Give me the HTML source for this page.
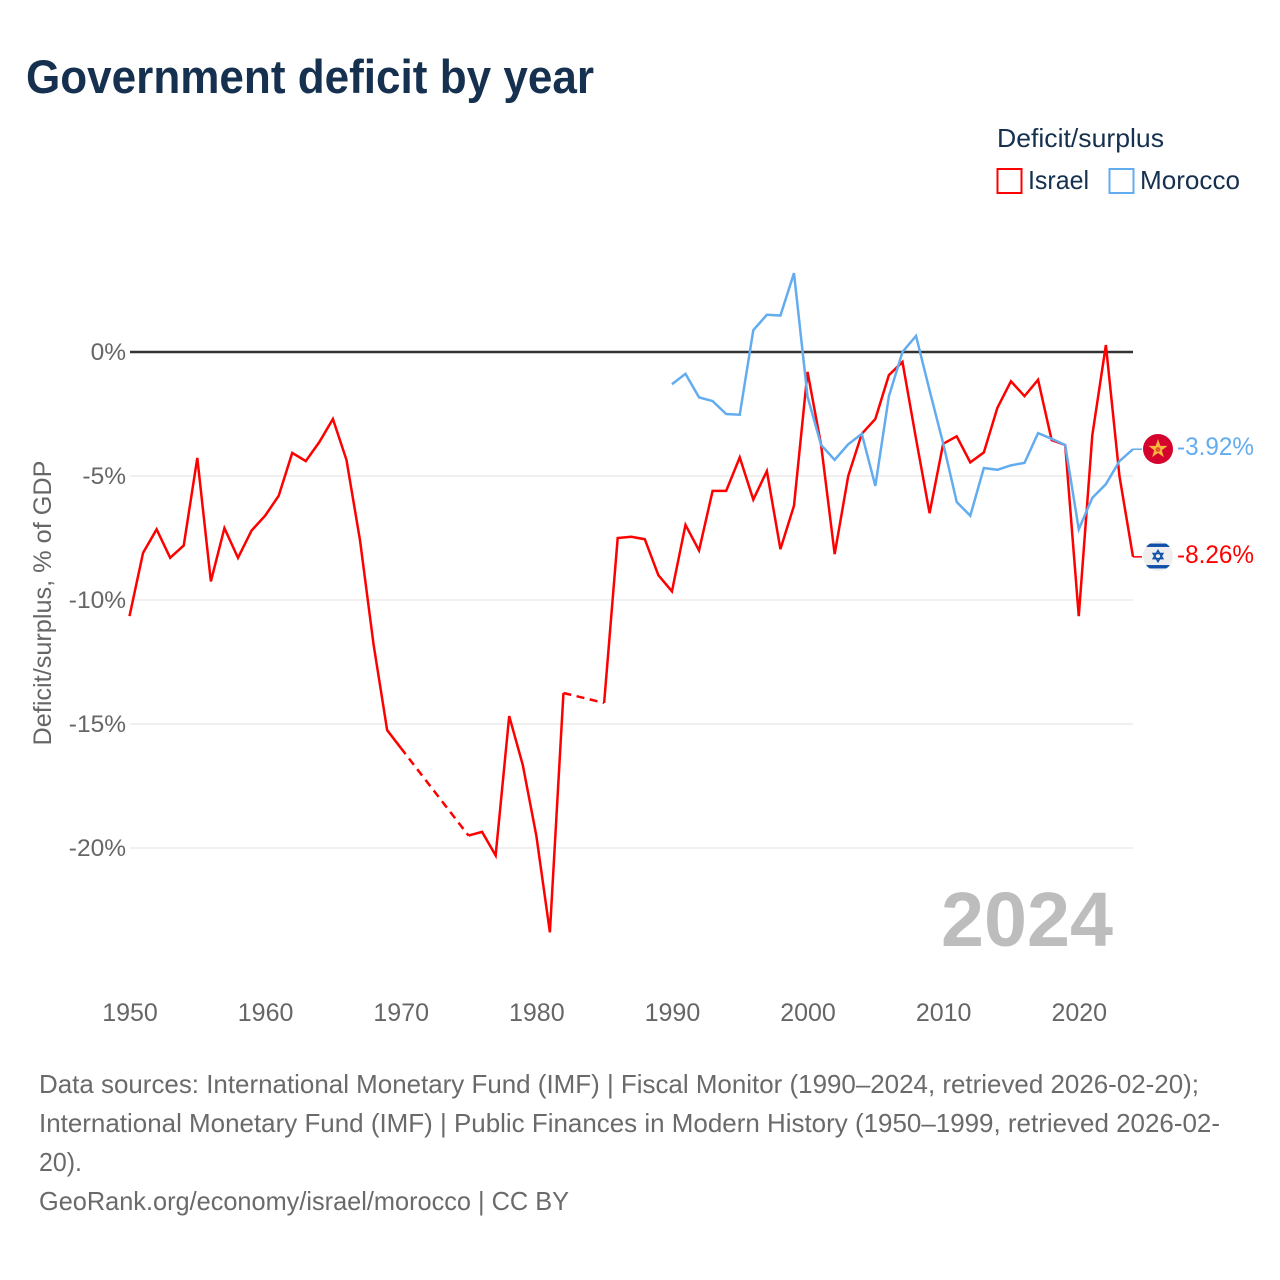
<!DOCTYPE html>
<html lang="en">
<head>
<meta charset="utf-8">
<title>Government deficit by year</title>
<style>
  html, body { margin: 0; padding: 0; background: #fff; }
  svg { display: block; font-family: "Liberation Sans", sans-serif; }
</style>
</head>
<body>
<svg id="chart" xmlns="http://www.w3.org/2000/svg" width="1280" height="1280" viewBox="0 0 1280 1280">
  <defs>
    <clipPath id="israelClip"><circle cx="0" cy="0" r="15"/></clipPath>
  </defs>
  <rect x="0" y="0" width="1280" height="1280" fill="#ffffff"/>
  <text x="26" y="93" font-size="47" font-weight="700" fill="#16304f" textLength="568" lengthAdjust="spacingAndGlyphs">Government deficit by year</text>

  <g>
    <text x="997" y="147" font-size="26" fill="#16304f" textLength="167" lengthAdjust="spacingAndGlyphs">Deficit/surplus</text>
    <rect x="997.5" y="169" width="24" height="24" fill="none" stroke="#ff0000" stroke-width="2"/>
    <text x="1028" y="189" font-size="26" fill="#16304f" textLength="61" lengthAdjust="spacingAndGlyphs">Israel</text>
    <rect x="1109.5" y="169" width="24" height="24" fill="none" stroke="#63acef" stroke-width="2"/>
    <text x="1140" y="189" font-size="26" fill="#16304f" textLength="100" lengthAdjust="spacingAndGlyphs">Morocco</text>
  </g>

  <g id="grid"></g>
  <g id="yTicksGroup"></g>
  <g id="xTicksGroup"></g>
  <text transform="translate(51,603) rotate(-90)" text-anchor="middle" font-size="25" fill="#666666" textLength="285" lengthAdjust="spacingAndGlyphs">Deficit/surplus, % of GDP</text>

  <text x="941" y="946" font-size="77" font-weight="700" fill="#bdbdbd" textLength="172" lengthAdjust="spacingAndGlyphs">2024</text>

  <g id="series"></g>

  <g id="flagMorocco">
    <circle r="15" fill="#d5042e"/>
    <polygon points="0,-10 2.4,-3.2 9.5,-3.1 3.8,1.2 5.9,8.1 0,4 -5.9,8.1 -3.8,1.2 -9.5,-3.1 -2.4,-3.2" fill="#f6b73c"/>
    <circle r="2.4" cy="0.5" fill="#e8532b"/>
  </g>
  <g id="flagIsrael">
    <circle r="15" fill="#eeeeee"/>
    <g clip-path="url(#israelClip)">
      <rect x="-15" y="-12.5" width="30" height="3.4" fill="#0f4fa8"/>
      <rect x="-15" y="9" width="30" height="3.4" fill="#0f4fa8"/>
    </g>
    <polygon points="0,-5.6 4.8,2.6 -4.8,2.6" fill="none" stroke="#0f4fa8" stroke-width="1.5"/>
    <polygon points="0,5.6 4.8,-2.6 -4.8,-2.6" fill="none" stroke="#0f4fa8" stroke-width="1.5"/>
  </g>
  <g id="endLabels"></g>

  <g font-size="26" fill="#6a6a6a">
    <text x="39" y="1093" textLength="1160" lengthAdjust="spacingAndGlyphs">Data sources: International Monetary Fund (IMF) | Fiscal Monitor (1990–2024, retrieved 2026-02-20);</text>
    <text x="39" y="1132" textLength="1181" lengthAdjust="spacingAndGlyphs">International Monetary Fund (IMF) | Public Finances in Modern History (1950–1999, retrieved 2026-02-</text>
    <text x="39" y="1171" textLength="43" lengthAdjust="spacingAndGlyphs">20).</text>
    <text x="39" y="1210" textLength="530" lengthAdjust="spacingAndGlyphs">GeoRank.org/economy/israel/morocco | CC BY</text>
  </g>
</svg>

<script>
const israelYears = [1950,1951,1952,1953,1954,1955,1956,1957,1958,1959,1960,1961,1962,1963,1964,1965,1966,1967,1968,1969,1970,1971,1972,1973,1974,1975,1976,1977,1978,1979,1980,1981,1982,1983,1984,1985,1986,1987,1988,1989,1990,1991,1992,1993,1994,1995,1996,1997,1998,1999,2000,2001,2002,2003,2004,2005,2006,2007,2008,2009,2010,2011,2012,2013,2014,2015,2016,2017,2018,2019,2020,2021,2022,2023,2024];
const israelValues = [-10.65,-8.1,-7.15,-8.3,-7.8,-4.27,-9.25,-7.1,-8.3,-7.2,-6.6,-5.8,-4.07,-4.4,-3.63,-2.7,-4.35,-7.6,-11.8,-15.25,-15.96,null,null,null,null,-19.5,-19.35,-20.3,-14.68,-16.65,-19.5,-23.4,-13.75,null,null,-14.15,-7.5,-7.45,-7.55,-9.0,-9.65,-6.97,-8.0,-5.6,-5.6,-4.25,-5.95,-4.8,-7.95,-6.2,-0.8,-3.75,-8.15,-5.0,-3.3,-2.7,-0.93,-0.4,-3.5,-6.5,-3.7,-3.4,-4.45,-4.05,-2.25,-1.18,-1.78,-1.12,-3.55,-3.75,-10.65,-3.35,0.28,-5.0,-8.26];
const moroccoYears = [1990,1991,1992,1993,1994,1995,1996,1997,1998,1999,2000,2001,2002,2003,2004,2005,2006,2007,2008,2009,2010,2011,2012,2013,2014,2015,2016,2017,2018,2019,2020,2021,2022,2023,2024];
const moroccoValues = [-1.3,-0.88,-1.83,-1.98,-2.5,-2.53,0.88,1.5,1.47,3.18,-1.8,-3.75,-4.35,-3.72,-3.3,-5.4,-1.78,0,0.65,-1.55,-3.68,-6.05,-6.6,-4.68,-4.75,-4.57,-4.47,-3.27,-3.5,-3.75,-7.15,-5.88,-5.33,-4.4,-3.92];
const xTickYears = [1950,1960,1970,1980,1990,2000,2010,2020];
const yTickValues = [0,-5,-10,-15,-20];

const NS = 'http://www.w3.org/2000/svg';
function xScale(year) { return 129.5 + (year - 1950) * (1133 - 129.5) / 74; }
function yScale(value) { return 352 - value * 24.8; }
function make(tag, parent) {
  const el = document.createElementNS(NS, tag);
  parent.appendChild(el);
  return el;
}

const grid = document.getElementById('grid');
const yTicksGroup = document.getElementById('yTicksGroup');
yTickValues.filter(function (v) { return v !== 0; }).forEach(function (v) {
  const line = make('line', grid);
  
  
  line.setAttribute('x1', 130);
  line.setAttribute('x2', 1133);
  line.setAttribute('y1', yScale(v));
  line.setAttribute('y2', yScale(v));
  line.setAttribute('stroke', '#e8e8e8');
  line.setAttribute('stroke-width', '1.2');
});
yTickValues.forEach(function (v) {
  const t = make('text', yTicksGroup);
  
  
  t.setAttribute('x', 126);
  t.setAttribute('y', yScale(v) + 8);
  t.setAttribute('text-anchor', 'end');
  t.setAttribute('font-size', '24.5');
  t.setAttribute('fill', '#666666');
  t.textContent = v + '%';
});

const xTicksGroup = document.getElementById('xTicksGroup');
xTickYears.forEach(function (y) {
  const t = make('text', xTicksGroup);
  
  
  t.setAttribute('x', xScale(y) + 0.5);
  t.setAttribute('y', 1021);
  t.setAttribute('text-anchor', 'middle');
  t.setAttribute('font-size', '25');
  t.setAttribute('fill', '#666666');
  t.textContent = y;
});

const zeroLine = make('line', grid);


zeroLine.setAttribute('x1', 130);
zeroLine.setAttribute('x2', 1133);
zeroLine.setAttribute('y1', yScale(0));
zeroLine.setAttribute('y2', yScale(0));
zeroLine.setAttribute('stroke', '#333333');
zeroLine.setAttribute('stroke-width', '2.6');

const seriesGroup = document.getElementById('series');
function pt(year, value) { return xScale(year).toFixed(2) + ',' + yScale(value).toFixed(2); }
function drawSeries(years, values, color, seriesName) {
  let run = [];
  let lastIdx = -1;
  function flush() {
    if (run.length > 1) {
      const solid = make('polyline', seriesGroup);
      
      
      solid.setAttribute('points', run.join(' '));
      solid.setAttribute('fill', 'none');
      solid.setAttribute('stroke', color);
      solid.setAttribute('stroke-width', '2.5');
      solid.setAttribute('stroke-linejoin', 'miter');
    }
    run = [];
  }
  years.forEach(function (year, i) {
    const v = values[i];
    if (v === null) { return; }
    if (lastIdx >= 0 && i - lastIdx > 1) {
      flush();
      const dash = make('line', seriesGroup);
      
      
      dash.setAttribute('x1', xScale(years[lastIdx]));
      dash.setAttribute('y1', yScale(values[lastIdx]));
      dash.setAttribute('x2', xScale(year));
      dash.setAttribute('y2', yScale(v));
      dash.setAttribute('stroke', color);
      dash.setAttribute('stroke-width', '2.5');
      dash.setAttribute('stroke-dasharray', '8 5.5');
    }
    run.push(pt(year, v));
    lastIdx = i;
  });
  flush();
  const lastVal = values[values.length - 1];
  const leader = make('line', seriesGroup);
  
  
  leader.setAttribute('x1', xScale(years[years.length - 1]));
  leader.setAttribute('x2', 1142);
  leader.setAttribute('y1', yScale(lastVal));
  leader.setAttribute('y2', yScale(lastVal));
  leader.setAttribute('stroke', color);
  leader.setAttribute('stroke-width', '1.5');
}
drawSeries(israelYears, israelValues, '#ff0000', 'israel');
drawSeries(moroccoYears, moroccoValues, '#63acef', 'morocco');

const endLabels = document.getElementById('endLabels');
function endLabel(value, color, name) {
  const t = make('text', endLabels);
  
  
  t.setAttribute('x', 1177);
  t.setAttribute('y', yScale(value) + 6);
  t.setAttribute('font-size', '25');
  t.setAttribute('fill', color);
  t.setAttribute('textLength', '77');
  t.setAttribute('lengthAdjust', 'spacingAndGlyphs');
  t.textContent = value.toFixed(2) + '%';
}
const moroccoLast = moroccoValues[moroccoValues.length - 1];
const israelLast = israelValues[israelValues.length - 1];
endLabel(moroccoLast, '#63acef', 'morocco-end-label');
endLabel(israelLast, '#ff0000', 'israel-end-label');
document.getElementById('flagMorocco').setAttribute('transform', 'translate(1158,' + (yScale(moroccoLast) - 0.2) + ')');
document.getElementById('flagIsrael').setAttribute('transform', 'translate(1158,' + (yScale(israelLast) - 0.8) + ')');
</script>
</body>
</html>
